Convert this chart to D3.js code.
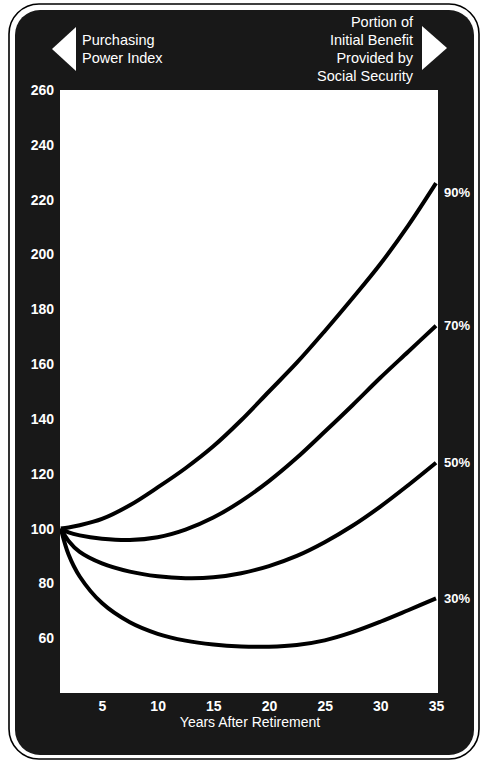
<!DOCTYPE html>
<html>
<head>
<meta charset="utf-8">
<script src="https://cdn.jsdelivr.net/npm/d3@7/dist/d3.min.js"></script>
<style>
  html, body { margin: 0; padding: 0; background: #fff; }
  svg { display: block; }
  text { font-family: "Liberation Sans", Arial, Helvetica, sans-serif; }
</style>
</head>
<body>
<svg id="chart" width="481" height="762"></svg>
<script>
// ---- data ----
const years = [1.3, 2, 3, 5, 7.5, 10, 12.5, 15, 17.5, 20, 22.5, 25, 27.5, 30, 32.5, 35];
const series90 = [100, 100.4, 101.2, 103.5, 108.5, 115, 122, 130, 139.5, 150, 160.5, 172, 184, 196.5, 210.5, 226];
const series70 = [100, 98.6, 97.5, 96.3, 95.8, 96.8, 99.6, 104, 110, 117.3, 125.8, 135.3, 145, 155, 164.5, 174];
const series50 = [100, 95.5, 91.5, 87.3, 84.3, 82.6, 81.9, 82.2, 83.7, 86.3, 90, 95, 101, 108, 115.8, 124];
const series30 = [100, 90.5, 82.5, 72.8, 65.8, 61.6, 59.1, 57.7, 57, 56.9, 57.5, 59.2, 62.2, 66, 70.2, 74.5];
const seriesLabels = ["90%", "70%", "50%", "30%"];
const yTicks = [60, 80, 100, 120, 140, 160, 180, 200, 220, 240, 260];
const xTicks = [5, 10, 15, 20, 25, 30, 35];
const leftHeader = ["Purchasing", "Power Index"];
const rightHeader = ["Portion of", "Initial Benefit", "Provided by", "Social Security"];
const xTitle = "Years After Retirement";

// ---- layout ----
const svg = d3.select("#chart");
const plot = { x0: 60, x1: 438, y0: 90, y1: 693 };
const x = d3.scaleLinear().domain([0, 35]).range([46.3, 436]);
const y = d3.scaleLinear().domain([40, 260]).range([693, 90]);
const dark = "#181818";

// outer frame
svg.append("rect").attr("x", 9).attr("y", 4).attr("width", 470).attr("height", 755)
  .attr("rx", 30).attr("ry", 30).attr("fill", "#fff").attr("stroke", "#000").attr("stroke-width", 1.6);
// dark panel
svg.append("rect").attr("x", 15).attr("y", 10).attr("width", 459).attr("height", 745)
  .attr("rx", 25).attr("ry", 25).attr("fill", dark);
// white plot area
svg.append("rect").attr("x", plot.x0).attr("y", plot.y0)
  .attr("width", plot.x1 - plot.x0).attr("height", plot.y1 - plot.y0).attr("fill", "#fff");

// header arrows
svg.append("path").attr("d", "M52,49 L76,27 L76,71 Z").attr("fill", "#fff");
svg.append("path").attr("d", "M447,48 L422,26 L422,70 Z").attr("fill", "#fff");

// header texts
svg.append("g").selectAll("text").data(leftHeader).join("text")
  .attr("x", 82).attr("y", (d, i) => 45 + i * 18)
  .attr("fill", "#fff").attr("font-size", 14.5).text(d => d);
svg.append("g").selectAll("text").data(rightHeader).join("text")
  .attr("x", 413).attr("y", (d, i) => 27 + i * 18).attr("text-anchor", "end")
  .attr("fill", "#fff").attr("font-size", 14.5).text(d => d);

// axes
const yAxis = svg.append("g").attr("transform", `translate(${plot.x0},0)`)
  .call(d3.axisLeft(y).tickValues(yTicks).tickSize(0).tickPadding(6).tickFormat(d3.format("d")));
yAxis.select(".domain").remove();
yAxis.selectAll("text").attr("fill", "#fff").attr("font-size", 14).attr("font-weight", "bold")
  .style("font-family", "'Liberation Sans', Arial, sans-serif");

const xAxis = svg.append("g").attr("transform", `translate(0,${plot.y1})`)
  .call(d3.axisBottom(x).tickValues(xTicks).tickSize(0).tickPadding(8).tickFormat(d3.format("d")));
xAxis.select(".domain").remove();
xAxis.selectAll("text").attr("fill", "#fff").attr("font-size", 14).attr("font-weight", "bold")
  .style("font-family", "'Liberation Sans', Arial, sans-serif");

svg.append("text").attr("x", 250).attr("y", 727).attr("text-anchor", "middle")
  .attr("fill", "#fff").attr("font-size", 14).text(xTitle);

// curves
svg.append("clipPath").attr("id", "plotclip").append("rect")
  .attr("x", plot.x0).attr("y", plot.y0).attr("width", plot.x1 - plot.x0).attr("height", plot.y1 - plot.y0);

const allSeries = [series90, series70, series50, series30];
const line = d3.line().x(d => x(d[0])).y(d => y(d[1])).curve(d3.curveCatmullRom.alpha(0.5));
svg.append("g").attr("clip-path", "url(#plotclip)").selectAll("path")
  .data(allSeries).join("path")
  .attr("d", s => line(years.map((yr, i) => [yr, s[i]])))
  .attr("fill", "none").attr("stroke", "#000").attr("stroke-width", 4);

// end labels
const labelDy = [9, 0, 0, 0];
svg.append("g").selectAll("text").data(allSeries).join("text")
  .attr("x", 444).attr("y", (s, i) => y(s[s.length - 1]) + labelDy[i])
  .attr("dy", "0.35em").attr("fill", "#fff").attr("font-size", 13).attr("font-weight", "bold")
  .text((s, i) => seriesLabels[i]);
</script>
</body>
</html>
